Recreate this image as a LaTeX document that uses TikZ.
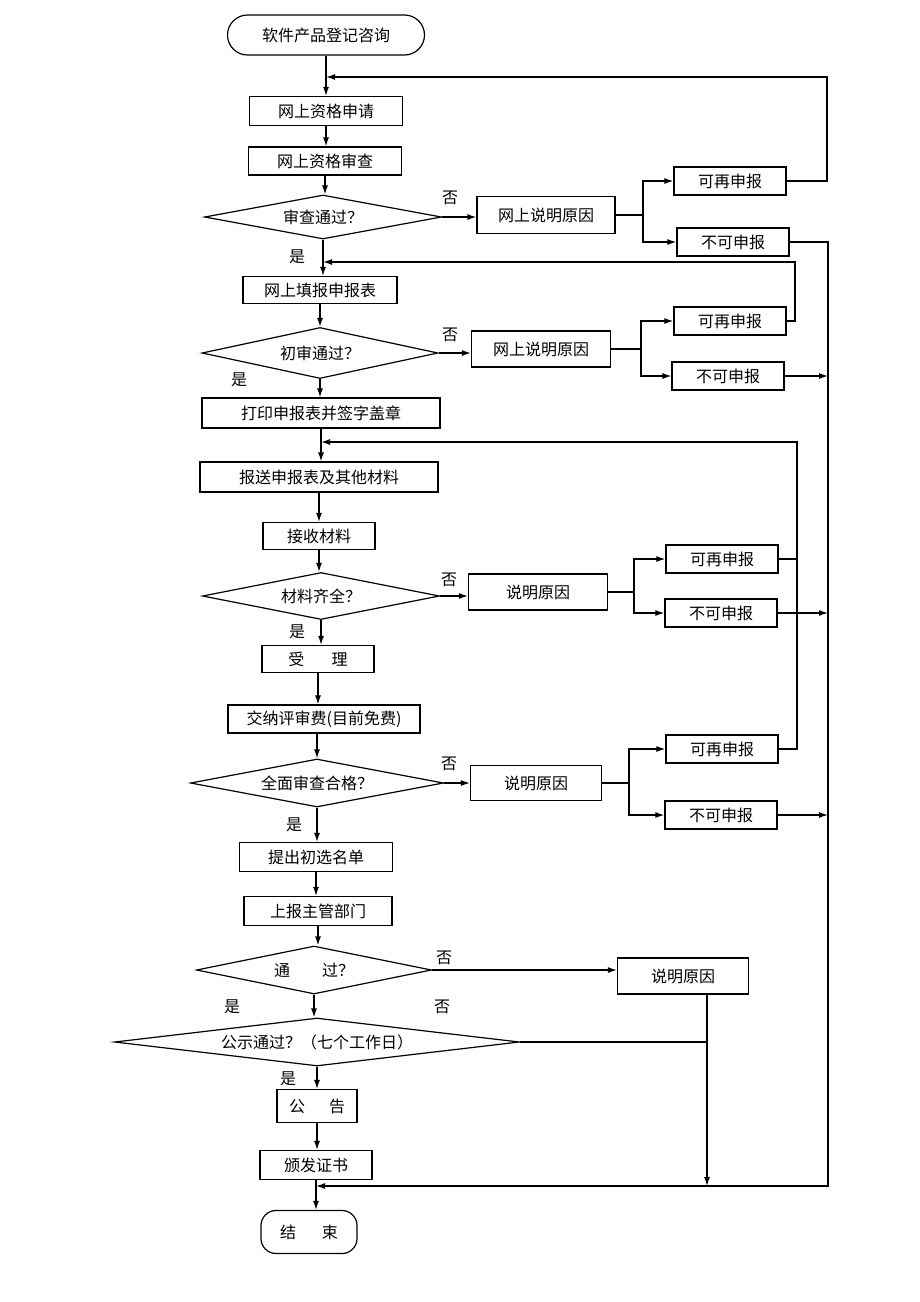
\documentclass[tikz,border=0pt]{standalone}
\usepackage{fontspec}
\newfontfamily\cjk{Noto Sans CJK SC}
\usetikzlibrary{positioning}
\usetikzlibrary{arrows.meta,shapes.geometric}
\tikzstyle{procbox}=[draw,rectangle,line width=1.2pt,inner sep=0pt,font={\cjk\fontsize{16}{19}\selectfont}]
\tikzstyle{terminal}=[procbox,rounded corners=20pt]
\tikzstyle{decision}=[draw,diamond,aspect=5,inner sep=0pt,line width=1.2pt,font={\cjk\fontsize{16}{19}\selectfont}]
\tikzstyle{answer}=[inner sep=0pt,font={\cjk\fontsize{16}{19}\selectfont}]
\tikzstyle{flow}=[->,line width=1.3pt]

\begin{document}
\begin{tikzpicture}[x=1pt,y=-1pt,>={Latex[length=9pt,width=6pt]}]

  \useasboundingbox (0,0) rectangle (920,1302);

  % main column
  \node[terminal,minimum width=197pt,minimum height=40pt] (start) at (326,35) {软件产品登记咨询};
  \node[procbox,minimum width=153pt,minimum height=29pt] (apply) at (326,111) {网上资格申请};
  \node[procbox,minimum width=153pt,minimum height=28pt] (check) at (325,161) {网上资格审查};
  \node[decision,minimum width=237pt,minimum height=44pt] (pass1) at (323,217) {审查通过？};
  \node[procbox,minimum width=154pt,minimum height=27pt] (fill) at (320,290) {网上填报申报表};
  \node[decision,minimum width=236pt,minimum height=51pt] (pass2) at (320,353) {初审通过？};
  \node[procbox,minimum width=238pt,minimum height=30pt] (print) at (321,413) {打印申报表并签字盖章};
  \node[procbox,minimum width=238pt,minimum height=30pt] (send) at (319,477) {报送申报表及其他材料};
  \node[procbox,minimum width=112pt,minimum height=27pt] (receive) at (319,536) {接收材料};
  \node[decision,minimum width=237pt,minimum height=47pt] (pass3) at (321,596) {材料齐全？};
  \node[procbox,minimum width=112pt,minimum height=27pt] (accept) at (318,659) {受\hspace{1.7em}理};
  \node[procbox,minimum width=192pt,minimum height=28pt] (fee) at (324,719) {交纳评审费(目前免费)};
  \node[decision,minimum width=253pt,minimum height=48pt] (pass4) at (317,783) {全面审查合格？};
  \node[procbox,minimum width=153pt,minimum height=29pt] (list) at (316,857) {提出初选名单};
  \node[procbox,minimum width=148pt,minimum height=29pt] (report) at (318,911) {上报主管部门};
  \node[decision,minimum width=235pt,minimum height=48pt] (pass5) at (314,970) {通\hspace{2em}过？};
  \node[decision,aspect=8,minimum width=405pt,minimum height=48pt] (notice) at (317,1042) {公示通过？（七个工作日）};
  \node[procbox,minimum width=80pt,minimum height=33pt] (announce) at (317,1106) {公\hspace{1.5em}告};
  \node[procbox,minimum width=112pt,minimum height=29pt] (issue) at (316,1165) {颁发证书};
  \node[procbox,rounded corners=15pt,minimum width=96pt,minimum height=43pt] (finish) at (309,1232) {结\hspace{1.6em}束};

  % reasons
  \node[procbox,minimum width=138pt,minimum height=37pt] (reason1) at (546,215) {网上说明原因};
  \node[procbox,minimum width=139pt,minimum height=36pt] (reason2) at (541,349) {网上说明原因};
  \node[procbox,minimum width=139pt,minimum height=36pt] (reason3) at (538,592) {说明原因};
  \node[procbox,minimum width=131pt,minimum height=35pt] (reason4) at (536,783) {说明原因};
  \node[procbox,minimum width=131pt,minimum height=36pt] (reason5) at (683,976) {说明原因};

  \foreach \pos/\name in {{(730,181)/again1}, {(730,321)/again2}, {(722,559)/again3}, {(722,749)/again4}}
    \node[procbox,minimum width=112pt,minimum height=28pt] (\name) at \pos {可再申报};
  \foreach \pos/\name in {{(733,242)/stop1}, {(728,376)/stop2}, {(721,613)/stop3}, {(721,815)/stop4}}
    \node[procbox,minimum width=112pt,minimum height=28pt] (\name) at \pos {不可申报};

  \foreach \pos/\name in {{(450,198)/no1}, {(450,335)/no2}, {(449,580)/no3}, {(449,764)/no4}, {(444,958)/no5}, {(442,1007)/no6}}
    \node[answer] (\name) at \pos {否};
  \foreach \pos/\name in {{(297,257)/yes1}, {(239,380)/yes2}, {(297,632)/yes3}, {(294,825)/yes4}, {(232,1007)/yes5}, {(288,1079)/yes6}}
    \node[answer] (\name) at \pos {是};

  % down the main column
  \foreach \source/\dest in {start/apply, apply/check, check/pass1, pass1/fill, fill/pass2, pass2/print, print/send, send/receive, receive/pass3, pass3/accept, accept/fee, pass4/list, list/report, report/pass5, pass5/notice, notice/announce, announce/issue, issue/finish}
    \draw[flow] (\source) -- (\source |- \dest.north);
  \draw[flow] (fee.south -| pass4) -- (pass4.north);

  % no branches
  \foreach \source/\dest in {pass1/reason1, pass2/reason2, pass3/reason3, pass4/reason4, pass5/reason5}
    \draw[flow] (\source.east) -- (\source.east -| \dest.west);

  \foreach \src/\up/\down/\fx in {reason1/again1/stop1/643, reason2/again2/stop2/641, reason3/again3/stop3/634, reason4/again4/stop4/629} {
    \coordinate (fk) at (\fx,0);
    \draw[flow] (\src.east) -- (fk |- \src.east) |- (\up.west);
    \draw[flow] (fk |- \src.east) |- (\down.west);
  }

  % back to an earlier step
  \coordinate (ret1) at (827,77);
  \draw[flow] (again1.east) -| (ret1) -- (ret1 -| start);
  \coordinate (ret2) at (795,262);
  \draw[flow] (again2.east) -| (ret2) -- (ret2 -| pass1);
  \coordinate (ret3) at (797,442);
  \draw[flow] (again4.east) -| (ret3) -- (ret3 -| print);
  \draw[line width=1.3pt] (again3.east) -- (again3.east -| ret3);

  % the right bus to the end
  \coordinate (busT) at (828,242);
  \coordinate (busB) at (828,1186);
  \draw[flow] (stop1.east) -- (busT) -- (busB) -- (busB -| issue);
  \foreach \name in {stop2, stop3, stop4}
    \draw[flow] (\name.east) -- (\name.east -| busT);

  \coordinate (drop) at (707,1042);
  \draw[line width=1.3pt] (notice.east) -- (drop);
  \draw[flow] (reason5.south -| drop) -- (drop |- busB);

\end{tikzpicture}
\end{document}
